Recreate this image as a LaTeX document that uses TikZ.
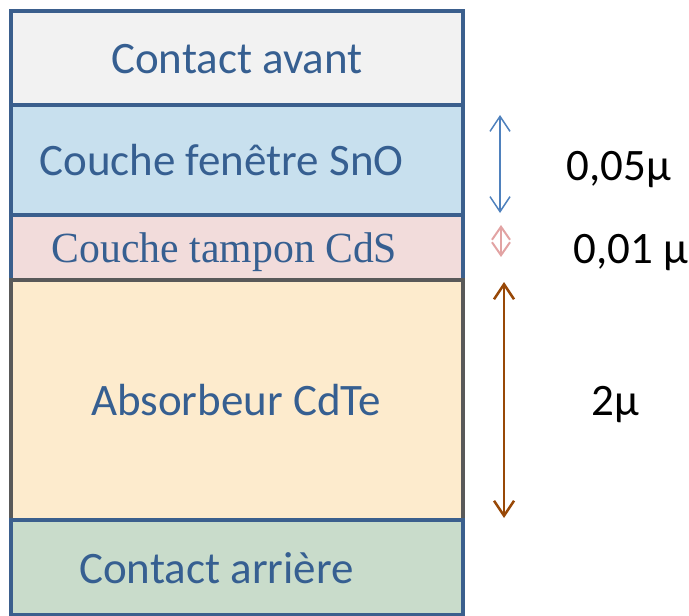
\documentclass[tikz,border=0pt]{standalone}
\usepackage{fontspec}
\setmainfont{Carlito}
\newfontfamily\serifface{Liberation Serif}
\usetikzlibrary{arrows.meta}
\definecolor{frameblue}{HTML}{3B5F8D}
\definecolor{framegray}{HTML}{595959}
\definecolor{labelblue}{HTML}{365F91}
\definecolor{fillfront}{HTML}{F2F2F2}
\definecolor{fillwindow}{HTML}{C8E0EE}
\definecolor{fillbuffer}{HTML}{F2DCDB}
\definecolor{fillabsorber}{HTML}{FDEBCD}
\definecolor{fillback}{HTML}{C9DCCB}
\definecolor{arrowblue}{HTML}{4F81BD}
\definecolor{arrowpink}{HTML}{E2A3A3}
\definecolor{arrowbrown}{HTML}{984807}
\tikzset{
  layer/.style={line width=4pt, draw=frameblue},
  layertext/.style={anchor=base, text=labelblue, inner sep=0pt, font=\fontsize{45}{54}\selectfont},
  thick/.style={anchor=base, text=black, inner sep=0pt, font=\fontsize{45}{54}\selectfont},
  dimarrow/.style={{Straight Barb[length=15pt,width=20pt]}-{Straight Barb[length=15pt,width=20pt]}},
  shortarrow/.style={{Straight Barb[length=13pt,width=18pt]}-{Straight Barb[length=13pt,width=18pt]}}
}
\begin{document}
\begin{tikzpicture}[x=1pt,y=-1pt]
\useasboundingbox (0,0) rectangle (689,616);
% stack of layers, top to bottom
\draw[layer, fill=fillfront]    (10.5,10.5) rectangle (462.5,105);
\draw[layer, fill=fillwindow]   (10.5,105)  rectangle (462.5,215);
\draw[layer, fill=fillbuffer]   (10.5,215)  rectangle (462.5,279.5);
\draw[layer, fill=fillabsorber, draw=framegray] (10.5,279.5) rectangle (462.5,520);
\draw[layer, fill=fillback]     (10.5,520)  rectangle (462.5,615);
% layer names
\node[layertext] (front)    at (237,73)  {Contact avant};
\node[layertext] (window)   at (221.5,175) {Couche fenêtre SnO};
\node[layertext, font=\serifface\fontsize{43}{52}\selectfont] (buffer) at (224.5,262)
  {\scalebox{0.97}[1]{Couche tampon CdS}};
\node[layertext] (absorber) at (236,415) {Absorbeur CdTe};
\node[layertext] (back)     at (216.5,583) {Contact arrière};
% thickness markers
\coordinate (w1) at (500,115);
\coordinate (w2) at (500,213);
\coordinate (b1) at (501,225);
\coordinate (b2) at (501,257);
\coordinate (a1) at (504,282);
\coordinate (a2) at (504,518);
\draw[dimarrow, draw=arrowblue, line width=1.5pt] (w1) -- (w2);
\draw[shortarrow, draw=arrowpink, line width=2pt] (b1) -- (b2);
\draw[dimarrow, draw=arrowbrown, line width=2.5pt] (a1) -- (a2);
\node[thick] (twindow)   at (619,180) {0,05µ};
\node[thick] (tbuffer)   at (631,263) {0,01 µ};
\node[thick] (tabsorber) at (615,415) {2µ};
\end{tikzpicture}
\end{document}
